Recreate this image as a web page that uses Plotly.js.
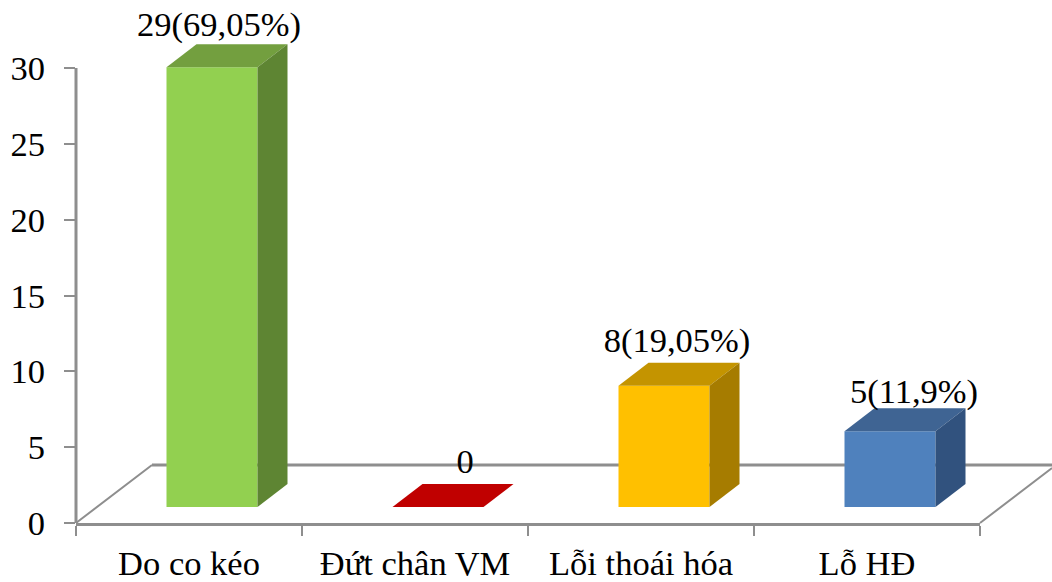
<!DOCTYPE html>
<html>
<head>
<meta charset="utf-8">
<script src="https://cdn.plot.ly/plotly-3.0.1.min.js"></script>
<style>html,body{margin:0;padding:0;background:#fff}#chart{width:1052px;height:582px}</style>
</head>
<body>
<div id="chart"></div>
<script>
// Counts per category and the label printed above each column
const categories = ['Do co kéo', 'Đứt chân VM', 'Lỗi thoái hóa', 'Lỗ HĐ'];
const counts = [29, 0, 8, 5];
const valueLabels = ['29(69,05%)', '0', '8(19,05%)', '5(11,9%)'];
const yTicks = [0, 5, 10, 15, 20, 25, 30];

// Face colours of each column
const frontColors = ['#92D050', '#C00000', '#FFC000', '#4F81BD'];
const topColors = ['#739F3F', '#C00000', '#C49400', '#3F6493'];
const sideColors = ['#5E8533', '#C00000', '#A67C00', '#31527E'];

// Pseudo-3D geometry, in axis units
const margin = {l: 76, r: 72, t: 0, b: 59};
const pxX = (1052 - margin.l - margin.r) / 4;
const pxY = 455 / 30;
const yTop = (582 - margin.t - margin.b) / pxY; // headroom above 30 for the column tops and labels
const barShift = 23 / pxX;
const barWidth = 91 / pxX;
const lift = 16 / pxY;
const depthX = 30 / pxX;
const depthY = 23 / pxY;
const labelNudgeX = [7, 27, 13, 24].map(v => v / pxX);
const labelGapY = [17, 20, 19, 14].map(v => v / pxY);

const pos = categories.map((_, i) => i);

const front = {
  type: 'bar',
  x: pos.map(i => i + barShift),
  y: counts,
  base: counts.map(() => lift),
  width: barWidth,
  marker: {color: frontColors, line: {width: 0}},
  hoverinfo: 'skip'
};

function face(xs, ys, color) {
  return {
    type: 'scatter', mode: 'lines', x: xs, y: ys, fill: 'toself',
    fillcolor: color, line: {width: 0, color: color},
    hoverinfo: 'skip'
  };
}

const faces = [];
counts.forEach((v, i) => {
  const x0 = i + barShift - barWidth / 2;
  const x1 = x0 + barWidth;
  const yb = lift;
  const yt = lift + v;
  faces.push(face(
    [x0, x1, x1 + depthX, x0 + depthX, x0],
    [yt, yt, yt + depthY, yt + depthY, yt],
    topColors[i]));
  if (v > 0) {
    faces.push(face(
      [x1, x1 + depthX, x1 + depthX, x1, x1],
      [yb, yb + depthY, yt + depthY, yt, yb],
      sideColors[i]));
  }
});

const labels = {
  type: 'scatter', mode: 'text',
  x: pos.map(i => i + barShift + labelNudgeX[i]),
  y: counts.map((v, i) => lift + v + depthY + labelGapY[i]),
  text: valueLabels,
  textposition: 'middle center',
  textfont: {family: 'Liberation Serif', size: 34.5, color: '#000'},
  hoverinfo: 'skip', cliponaxis: false
};

// Floor outline and the vertical axis line sit behind the columns;
// paper coordinates let the floor run past the end of the category axis
const axisGrey = '#8E8E8E';
const floorDx = 76 / (pxX * 4);
const floorDy = 58 / (pxY * yTop);
const floorEnd = (1052 - margin.l) / (pxX * 4);
const floorRightY = floorDy * (floorEnd - 1) / floorDx;
const floorShape = {
  type: 'path', xref: 'paper', yref: 'paper', layer: 'below',
  path: `M 0 0 L ${floorDx} ${floorDy} M 1 0 L ${floorEnd} ${floorRightY}`,
  line: {color: axisGrey, width: 2}
};
const backLine = {
  type: 'line', xref: 'paper', yref: 'paper', layer: 'below',
  x0: floorDx, x1: floorEnd, y0: floorDy, y1: floorDy,
  line: {color: axisGrey, width: 3}
};
const valueAxisLine = {
  type: 'line', xref: 'paper', yref: 'y', layer: 'below',
  x0: 0, x1: 0, y0: 0, y1: yTicks[yTicks.length - 1],
  line: {color: axisGrey, width: 3}
};

const tickFont = {family: 'Liberation Serif', size: 34.5, color: '#000'};

const layout = {
  width: 1052, height: 582,
  margin: margin,
  paper_bgcolor: '#fff', plot_bgcolor: 'rgba(0,0,0,0)',
  showlegend: false,
  shapes: [floorShape, backLine, valueAxisLine],
  xaxis: {
    type: 'linear', range: [-0.5, 3.5], fixedrange: true,
    tickmode: 'array', tickvals: pos, ticktext: categories,
    ticks: '', tickfont: tickFont, ticklabelstandoff: 8,
    showgrid: false, zeroline: false,
    showline: true, linecolor: axisGrey, linewidth: 3,
    minor: {
      tickmode: 'array', tickvals: [-0.5, 0.5, 1.5, 2.5, 3.5],
      ticks: 'outside', ticklen: 10, tickwidth: 2, tickcolor: axisGrey, showgrid: false
    }
  },
  yaxis: {
    range: [0, yTop], fixedrange: true,
    tickmode: 'array', tickvals: yTicks,
    ticks: 'outside', ticklen: 11, tickwidth: 2, tickcolor: axisGrey,
    tickfont: tickFont, ticklabelstandoff: 12,
    showgrid: false, zeroline: false, showline: false
  }
};

Plotly.newPlot('chart', [front, ...faces, labels], layout, {displayModeBar: false, staticPlot: true});
</script>
</body>
</html>
